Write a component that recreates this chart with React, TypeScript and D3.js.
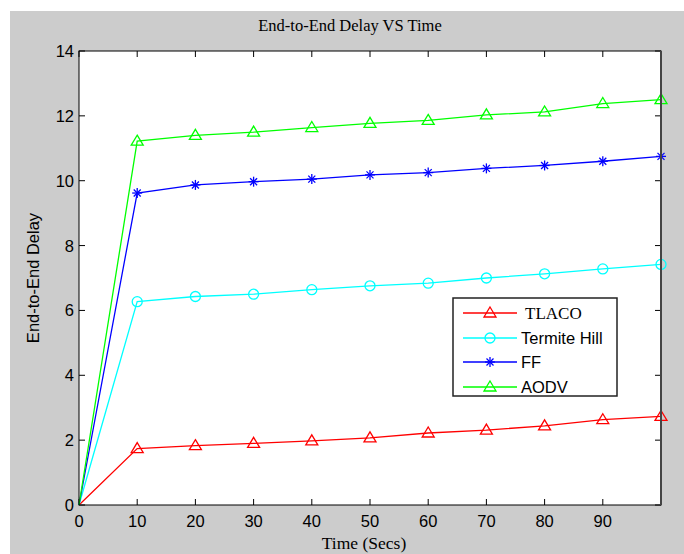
import * as d3 from 'd3'

const times = [0, 10, 20, 30, 40, 50, 60, 70, 80, 90, 100]
const tlaco = [0, 1.74, 1.83, 1.9, 1.98, 2.07, 2.22, 2.31, 2.44, 2.63, 2.73]
const termiteHill = [0, 6.27, 6.43, 6.5, 6.64, 6.76, 6.84, 7.0, 7.13, 7.28, 7.42]
const ff = [0, 9.62, 9.87, 9.97, 10.05, 10.18, 10.25, 10.38, 10.47, 10.6, 10.75]
const aodv = [0, 11.22, 11.4, 11.5, 11.64, 11.77, 11.86, 12.03, 12.12, 12.38, 12.5]
const xTicks = [0, 10, 20, 30, 40, 50, 60, 70, 80, 90]
const yTicks = [0, 2, 4, 6, 8, 10, 12, 14]

const series = [
  { name: 'TLACO', values: tlaco, color: '#ff0000', marker: 'triangle', serif: true },
  { name: 'Termite Hill', values: termiteHill, color: '#00ffff', marker: 'circle', serif: false },
  { name: 'FF', values: ff, color: '#0000ff', marker: 'star', serif: false },
  { name: 'AODV', values: aodv, color: '#00ff00', marker: 'triangle', serif: false },
]

const W = 684
const H = 554
const left = 79
const right = 661
const top = 51
const bottom = 505

const sans = '"Liberation Sans", Arial, sans-serif'
const serif = '"Liberation Serif", "Times New Roman", serif'

const Marker = ({ type, x, y, color }: { type: string; x: number; y: number; color: string }) => {
  if (type === 'circle') {
    return <circle cx={x} cy={y} r={5} fill="none" stroke={color} strokeWidth={1.3} />
  }
  if (type === 'star') {
    const r = 5
    const d = r * 0.7
    return (
      <g stroke={color} strokeWidth={1.3}>
        <line x1={x - r} y1={y} x2={x + r} y2={y} />
        <line x1={x} y1={y - r} x2={x} y2={y + r} />
        <line x1={x - d} y1={y - d} x2={x + d} y2={y + d} />
        <line x1={x - d} y1={y + d} x2={x + d} y2={y - d} />
      </g>
    )
  }
  // triangle pointing up
  const h = 10
  const w = 12
  const pts = [
    [x, y - h * 0.6],
    [x + w / 2, y + h * 0.4],
    [x - w / 2, y + h * 0.4],
  ]
  return <polygon points={pts.map(p => p.join(',')).join(' ')} fill="none" stroke={color} strokeWidth={1.3} />
}

export default function App() {
  const x = d3.scaleLinear().domain([0, 100]).range([left, right])
  const y = d3.scaleLinear().domain([0, 14]).range([bottom, top])
  const line = d3
    .line<number>()
    .x((_, i) => x(times[i]))
    .y(d => y(d))

  const legend = { x: 453, y: 298, w: 164, h: 98 }
  const rowY = [313, 338, 362, 387]

  return (
    <svg
      width={W}
      height={H}
      viewBox={`0 0 ${W} ${H}`}
      style={{ position: 'absolute', left: 0, top: 0, background: '#fff' }}
    >
      <rect x={10} y={11} width={W - 10} height={H - 11} fill="#cccccc" />
      <rect x={left} y={top} width={right - left} height={bottom - top} fill="#fff" />

      <text x={350} y={31} fontFamily={serif} fontSize={16.5} textAnchor="middle" fill="#000">
        End-to-End Delay VS Time
      </text>

      {/* ticks */}
      <g stroke="#000" strokeWidth={1}>
        {xTicks.map(t => (
          <g key={t}>
            <line x1={x(t)} x2={x(t)} y1={bottom} y2={bottom - 6} />
            <line x1={x(t)} x2={x(t)} y1={top} y2={top + 6} />
          </g>
        ))}
        {yTicks.map(t => (
          <g key={t}>
            <line x1={left} x2={left + 6} y1={y(t)} y2={y(t)} />
            <line x1={right} x2={right - 6} y1={y(t)} y2={y(t)} />
          </g>
        ))}
      </g>

      <g fontFamily={sans} fontSize={16.5} fill="#000">
        {xTicks.map(t => (
          <text key={t} x={x(t)} y={bottom + 22} textAnchor="middle">
            {t}
          </text>
        ))}
        {yTicks.map(t => (
          <text key={t} x={left - 5} y={y(t) + 6} textAnchor="end">
            {t}
          </text>
        ))}
      </g>

      <text x={364} y={549} fontFamily={serif} fontSize={17.5} textAnchor="middle" fill="#000">
        Time (Secs)
      </text>
      <text
        transform={`translate(39, ${(top + bottom) / 2}) rotate(-90)`}
        fontFamily={sans}
        fontSize={16.5}
        textAnchor="middle"
        fill="#000"
      >
        End-to-End Delay
      </text>

      {/* series */}
      {series.map(s => (
        <g key={s.name}>
          <path d={line(s.values) ?? ''} fill="none" stroke={s.color} strokeWidth={1.3} />
          {s.values.slice(1).map((v, i) => (
            <Marker key={i} type={s.marker} x={x(times[i + 1])} y={y(v)} color={s.color} />
          ))}
        </g>
      ))}

      {/* axes box */}
      <rect x={left} y={top} width={right - left} height={bottom - top} fill="none" stroke="#000" strokeWidth={1} />
      <line x1={right} x2={right} y1={top} y2={bottom} stroke="#444" strokeWidth={2} />

      {/* legend */}
      <rect x={legend.x} y={legend.y} width={legend.w} height={legend.h} fill="#fff" stroke="#222" strokeWidth={1.5} />
      {series.map((s, i) => (
        <g key={s.name}>
          <line x1={463} x2={517} y1={rowY[i]} y2={rowY[i]} stroke={s.color} strokeWidth={1.3} />
          <Marker type={s.marker} x={490} y={rowY[i]} color={s.color} />
          <text
            x={s.serif ? 525 : 521}
            y={rowY[i] + 6}
            fontFamily={s.serif ? serif : sans}
            fontSize={s.serif ? 17 : 16.5}
            fill="#000"
          >
            {s.name}
          </text>
        </g>
      ))}
    </svg>
  )
}
